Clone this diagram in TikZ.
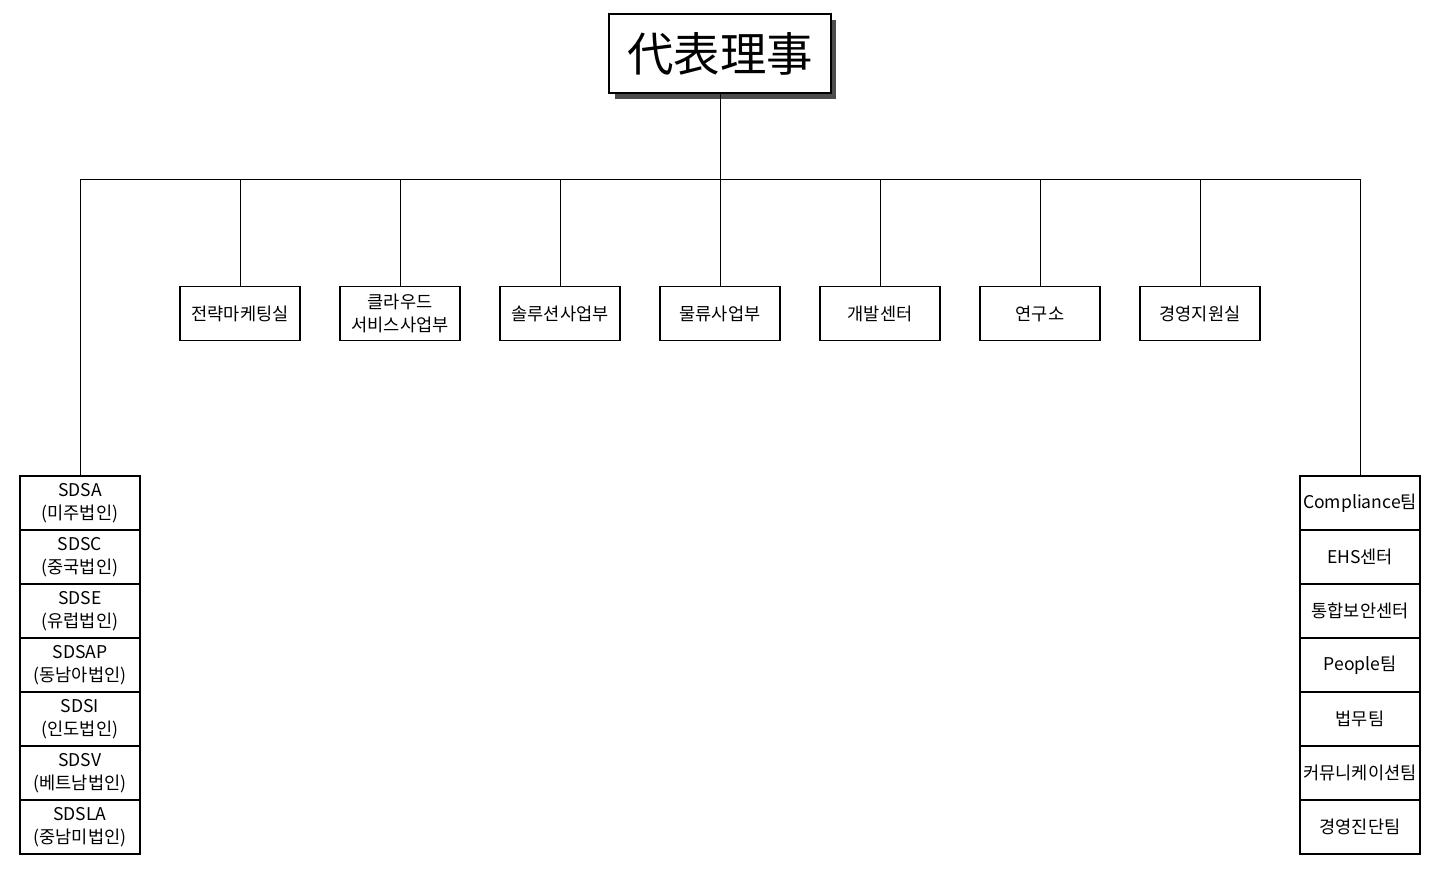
\documentclass[tikz,border=0pt]{standalone}
\usepackage{fontspec}
\setmainfont{Noto Sans CJK KR}
\begin{document}
\begin{tikzpicture}[x=0.025cm,y=-0.025cm,
  box/.style={draw,thick,minimum width=3cm,minimum height=1.35cm,inner sep=0pt,align=center,font=\fontsize{12.5}{16}\selectfont},
  col/.style={box,minimum height=1.35cm},
  ln/.style={draw,semithick}]
\useasboundingbox (0,0) rectangle (1440,883);
\fill[black!70] (615,20) rectangle (836,99);
\node[draw,very thick,fill=white,minimum width=5.55cm,minimum height=1.98cm,inner sep=0pt,font=\fontsize{33}{36}\selectfont] (ceo) at (720,53.5) {代表理事};
\coordinate (hub) at (720,179);
\draw[ln] (ceo.south) -- (hub);
\coordinate (hl) at (80,179);
\coordinate (hr) at (1360,179);
\draw[ln] (hl) -- (hr);
\foreach \x/\n/\t in {240/a/전략마케팅실,400/b/{클라우드\\서비스사업부},560/c/솔루션사업부,720/d/물류사업부,880/e/개발센터,1040/f/연구소,1200/g/경영지원실}{
  \node[box] (\n) at (\x,313.5) {\t};
  \coordinate (t\n) at (\x,179);
  \draw[ln] (t\n) -- (\n.north);
}
\foreach \i/\t in {0/{SDSA\\(미주법인)},1/{SDSC\\(중국법인)},2/{SDSE\\(유럽법인)},3/{SDSAP\\(동남아법인)},4/{SDSI\\(인도법인)},5/{SDSV\\(베트남법인)},6/{SDSLA\\(중남미법인)}}{
  \node[col] (L\i) at (80,{503+54*\i}) {\t};
}
\foreach \i/\t in {0/Compliance팀,1/EHS센터,2/통합보안센터,3/People팀,4/법무팀,5/커뮤니케이션팀,6/경영진단팀}{
  \node[col] (R\i) at (1360,{503+54*\i}) {\t};
}
\draw[ln] (hl) -- (L0.north);
\draw[ln] (hr) -- (R0.north);
\end{tikzpicture}
\end{document}
